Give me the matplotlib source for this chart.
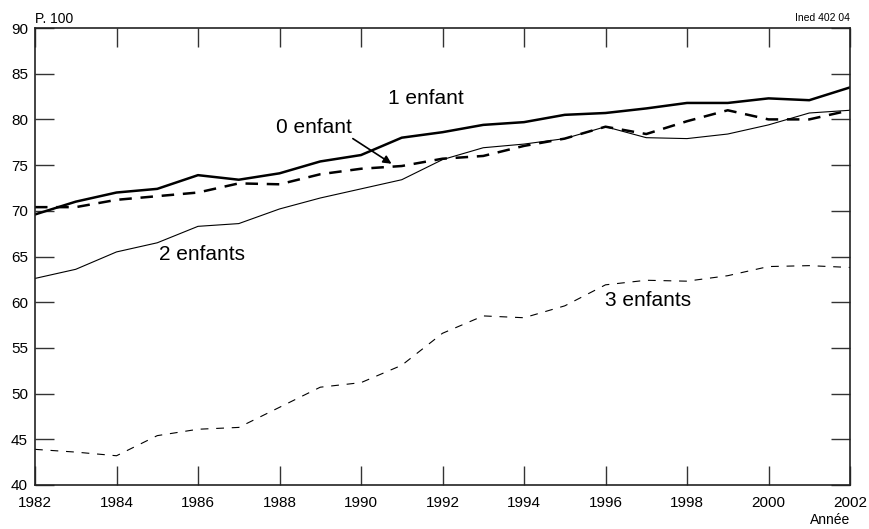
import matplotlib
matplotlib.use("Agg")
import matplotlib.pyplot as plt

plt.rcParams["font.family"] = ["Liberation Sans", "DejaVu Sans"]

years = list(range(1982, 2003))

enfant_0 = [70.4, 70.4, 71.2, 71.6, 72.0, 73.0, 72.9, 74.0, 74.6, 74.9, 75.7,
            76.0, 77.1, 77.9, 79.2, 78.4, 79.8, 81.0, 80.0, 80.0, 81.0]
enfant_1 = [69.6, 71.0, 72.0, 72.4, 73.9, 73.4, 74.1, 75.4, 76.1, 78.0, 78.6,
            79.4, 79.7, 80.5, 80.7, 81.2, 81.8, 81.8, 82.3, 82.1, 83.5]
enfant_2 = [62.6, 63.6, 65.5, 66.5, 68.3, 68.6, 70.2, 71.4, 72.4, 73.4, 75.6,
            76.9, 77.3, 77.9, 79.2, 78.0, 77.9, 78.4, 79.4, 80.7, 81.0]
enfant_3 = [43.9, 43.6, 43.2, 45.4, 46.1, 46.3, 48.5, 50.7, 51.2, 53.1, 56.6,
            58.5, 58.3, 59.6, 61.9, 62.4, 62.3, 62.9, 63.9, 64.0, 63.8]

x_ticks = list(range(1982, 2003, 2))
y_ticks = list(range(40, 91, 5))

fig = plt.figure(figsize=(8.7, 5.29), dpi=100)
ax = fig.add_axes([35 / 870, 44 / 529, 815 / 870, 457 / 529])

ax.plot(years, enfant_1, color="black", lw=1.8)
ax.plot(years, enfant_0, color="black", lw=1.8, dashes=(5, 3.5))
ax.plot(years, enfant_2, color="black", lw=0.8)
ax.plot(years, enfant_3, color="black", lw=0.8, dashes=(7, 7))

ax.set_xlim(1982, 2002)
ax.set_ylim(40, 90)
ax.set_xticks(x_ticks)
ax.set_yticks(y_ticks)
ax.tick_params(axis="both", direction="in", length=14, width=1, color="#333333",
               labelsize=11, top=True, right=True)
ax.tick_params(axis="x", pad=8)
ax.tick_params(axis="y", pad=5)
for s in ax.spines.values():
    s.set_linewidth(1.2)
    s.set_color("#222222")

# series labels
ax.text(1991.6, 82.3, "1 enfant", fontsize=15, ha="center", va="center")
ax.text(1988.85, 79.1, "0 enfant", fontsize=15, ha="center", va="center")
ax.annotate("", xy=(1990.75, 75.15), xytext=(1989.8, 77.9),
            arrowprops=dict(arrowstyle="-|>", color="black", lw=1.2,
                            mutation_scale=12, shrinkA=0, shrinkB=0))
ax.text(1986.1, 65.2, "2 enfants", fontsize=15, ha="center", va="center")
ax.text(1997.05, 60.2, "3 enfants", fontsize=15, ha="center", va="center")

ax.text(0, 1.004, "P. 100", transform=ax.transAxes, fontsize=10,
        ha="left", va="bottom")
ax.text(1, 1.012, "Ined 402 04", transform=ax.transAxes, fontsize=7.5,
        ha="right", va="bottom")
ax.text(1, -0.077, "Année", transform=ax.transAxes, fontsize=10,
        ha="right", va="center")

fig.savefig("out.png", dpi=100)
